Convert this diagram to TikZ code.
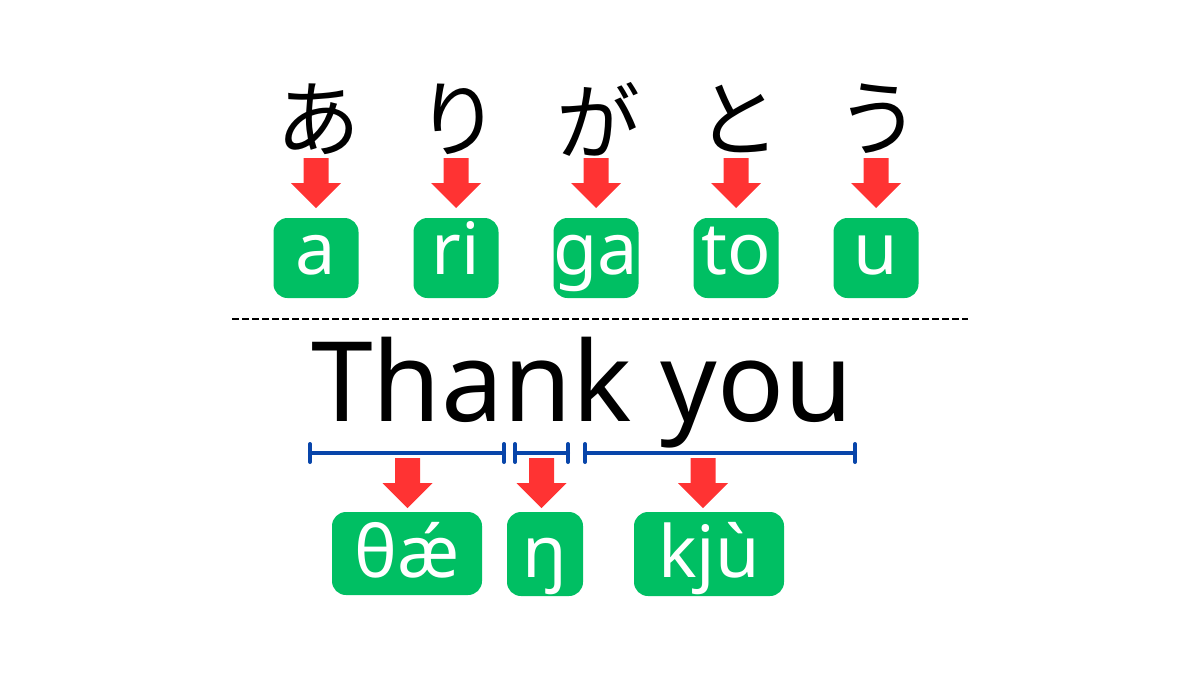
\documentclass[tikz,border=0pt]{standalone}
\usepackage{fontspec}
\setmainfont{Noto Sans}
\newfontfamily\jafont{Noto Sans CJK JP}
\definecolor{boxgreen}{RGB}{0,191,99}
\definecolor{arrred}{RGB}{255,51,51}
\definecolor{barblue}{RGB}{8,69,170}
\tikzset{
  x=1pt, y=-1pt,
  kana/.style={font=\jafont\fontsize{84}{90}\selectfont, inner sep=0pt},
  gbox/.style={fill=boxgreen, rounded corners=14pt, inner sep=0pt},
  gtext/.style={text=white, font=\fontsize{72}{80}\selectfont, inner sep=0pt, anchor=base},
  blockarrow/.pic={\fill[arrred] (-12.5,0) -- (12.5,0) -- (12.5,25) -- (25,25) -- (0,50) -- (-25,25) -- (-12.5,25) -- cycle;},
  bar/.style={draw=barblue, line width=4pt, line cap=round},
}
\begin{document}
\begin{tikzpicture}
\useasboundingbox (0,0) rectangle (1200,675);
% kana
\foreach \c/\x/\n in {あ/318/1,り/458/2,が/598/3,と/738/4,う/878/5}{
  \node[kana] (k\n) at (\x,119) {\c};
}
% upper boxes
\foreach \t/\x/\n in {a/316/1,ri/456/2,ga/596/3,to/736/4,u/876/5}{
  \node[gbox, minimum width=85pt, minimum height=80pt] (b\n) at (\x,258) {};
  \node[gtext] (t\n) at (\x,274) {\t};
  \coordinate (a\n) at (\x,158);
  \pic at (a\n) {blockarrow};
}
% dashed separator
\coordinate (d1) at (232,319);
\coordinate (d2) at (968,319);
\draw[line width=2pt, dash pattern=on 7pt off 3pt] (d1) -- (d2);
% Thank you
\node[font=\fontsize{111}{120}\selectfont, inner sep=0pt, anchor=base] (ty) at (582,421) {Thank you};
% brackets
\foreach \l/\r/\n in {310/504/1,515/568/2,585/855/3}{
  \coordinate (sl\n) at (\l,453);
  \coordinate (sr\n) at (\r,453);
  \draw[bar] (sl\n) -- (sr\n);
  \draw[bar] ([yshift=9pt]sl\n) -- ([yshift=-9pt]sl\n);
  \draw[bar] ([yshift=9pt]sr\n) -- ([yshift=-9pt]sr\n);
}
% lower arrows
\foreach \x/\n in {407.5/1,541.5/2,703/3}{
  \coordinate (la\n) at (\x,458);
  \pic at (la\n) {blockarrow};
}
% lower boxes
\node[gbox, minimum width=150pt, minimum height=83pt] (lb1) at (407,553.5) {};
\node[gtext] (lt1) at (407,577) {θǽ};
\node[gbox, minimum width=76pt, minimum height=84pt] (lb2) at (545,554) {};
\node[gtext] (lt2) at (545,577) {ŋ};
\node[gbox, minimum width=150pt, minimum height=84pt] (lb3) at (709,554) {};
\node[gtext] (lt3) at (709,577) {kjù};
\end{tikzpicture}
\end{document}
